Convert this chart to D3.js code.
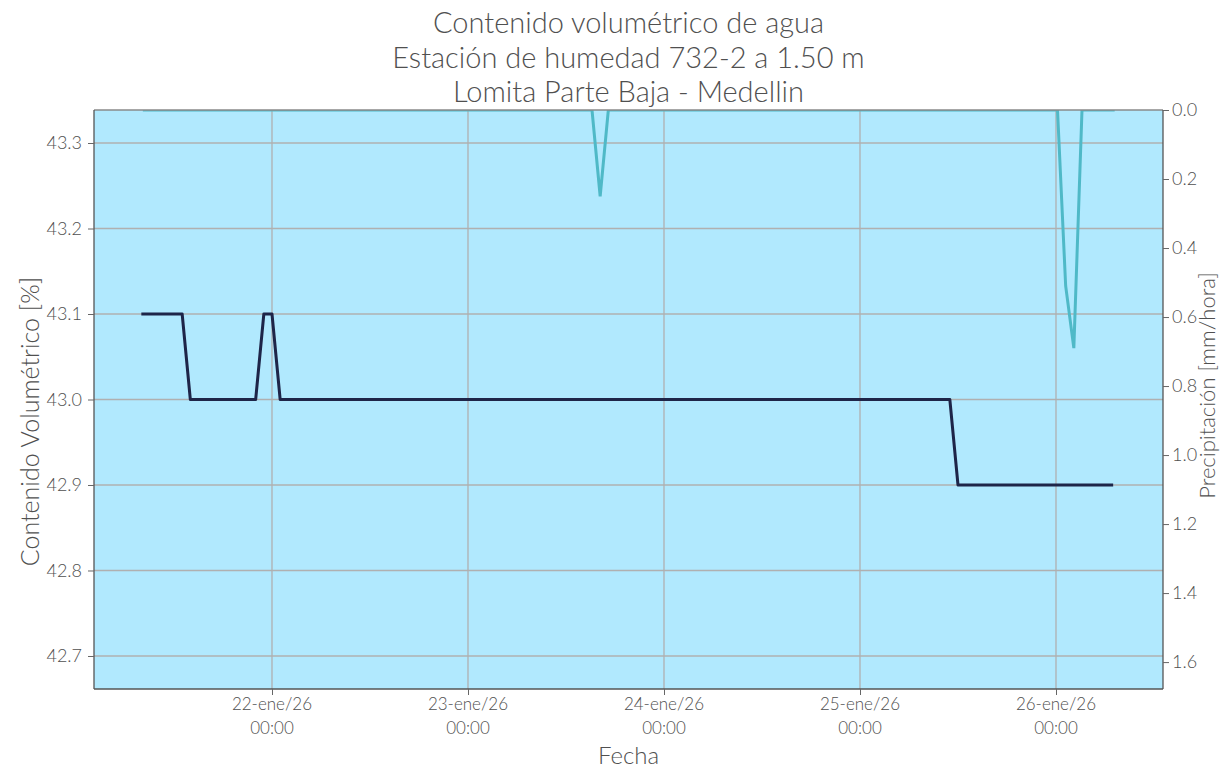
<!DOCTYPE html>
<html><head><meta charset="utf-8">
<script src="https://cdn.jsdelivr.net/npm/d3@7"></script>
<style>
body{margin:0;background:#fff;}
text{font-family:Lato,"Noto Sans",sans-serif;font-weight:300;fill:#505050;}
</style></head>
<body><svg id="c" width="1223" height="769"></svg>
<script>
const titleLines = ["Contenido volumétrico de agua","Estación de humedad 732-2 a 1.50 m","Lomita Parte Baja - Medellin"];
const humTimes = ["2026-01-21T08:00","2026-01-21T13:00","2026-01-21T14:00","2026-01-21T22:00","2026-01-21T23:00","2026-01-22T00:00","2026-01-22T01:00","2026-01-25T11:00","2026-01-25T12:00","2026-01-26T07:00"];
const humValues = [43.1,43.1,43.0,43.0,43.1,43.1,43.0,43.0,42.9,42.9];
const rainTimes = ["2026-01-21T08:00","2026-01-23T15:00","2026-01-23T16:00","2026-01-23T17:00","2026-01-26T00:00","2026-01-26T01:00","2026-01-26T02:00","2026-01-26T03:00","2026-01-26T07:00"];
const rainValues = [0,0,0.25,0,0,0.51,0.69,0,0];
const xTickDates = ["2026-01-22T00:00","2026-01-23T00:00","2026-01-24T00:00","2026-01-25T00:00","2026-01-26T00:00"];
const xTickLabels = ["22-ene/26","23-ene/26","24-ene/26","25-ene/26","26-ene/26"];
const xTickTimes = ["00:00","00:00","00:00","00:00","00:00"];
const yLeftTicks = [42.7,42.8,42.9,43.0,43.1,43.2,43.3];
const yRightTicks = [0,0.2,0.4,0.6,0.8,1.0,1.2,1.4,1.6];

const parse = d3.timeParse("%Y-%m-%dT%H:%M");
const L=94,R=1163,T=110,B=689;
const svg=d3.select("#c");
const d22=parse(xTickDates[0]), d26=parse(xTickDates[4]);
const pxPerMs=(1056-272)/(d26-d22);
const x=d3.scaleTime().domain([new Date(+d22-(272-L)/pxPerMs), new Date(+d22+(R-272)/pxPerMs)]).range([L,R]);
const yL=d3.scaleLinear().domain([42.6614,43.3386]).range([B,T]);
const yR=d3.scaleLinear().domain([0,1.678]).range([T,B]);

svg.append("rect").attr("x",L).attr("y",T).attr("width",R-L).attr("height",B-T).attr("fill","#b1e9fe");
svg.append("defs").append("clipPath").attr("id","clip").append("rect").attr("x",L).attr("y",T).attr("width",R-L).attr("height",B-T);

const g=svg.append("g");
g.selectAll(".hg").data(yLeftTicks).join("line").attr("x1",L).attr("x2",R).attr("y1",d=>yL(d)).attr("y2",d=>yL(d)).attr("stroke","#b0b0b0").attr("stroke-width",1.3);
g.selectAll(".vg").data(xTickDates).join("line").attr("y1",T).attr("y2",B).attr("x1",d=>x(parse(d))).attr("x2",d=>x(parse(d))).attr("stroke","#b0b0b0").attr("stroke-width",1.3);

const rain=rainTimes.map((t,i)=>({t:parse(t),v:rainValues[i]}));
svg.append("path").datum(rain).attr("clip-path","url(#clip)").attr("fill","none").attr("stroke","#4fb9c7").attr("stroke-width",3)
 .attr("d",d3.line().x(d=>x(d.t)+1.5).y(d=>yR(d.v)));
const hum=humTimes.map((t,i)=>({t:parse(t),v:humValues[i]}));
svg.append("path").datum(hum).attr("fill","none").attr("stroke","#1e2548").attr("stroke-width",3).attr("stroke-linejoin","round")
 .attr("d",d3.line().x(d=>x(d.t)).y(d=>yL(d.v)));

svg.append("line").attr("x1",L).attr("x2",R).attr("y1",T).attr("y2",T).attr("stroke","#8a8a8a").attr("stroke-width",1.3);
svg.append("line").attr("x1",L).attr("x2",L).attr("y1",T).attr("y2",B).attr("stroke","#555").attr("stroke-width",1.3);
svg.append("line").attr("x1",R).attr("x2",R).attr("y1",T).attr("y2",B).attr("stroke","#555").attr("stroke-width",1.3);
svg.append("line").attr("x1",L).attr("x2",R).attr("y1",B).attr("y2",B).attr("stroke","#555").attr("stroke-width",1.3);

const la=svg.append("g").attr("transform",`translate(${L},0)`).call(d3.axisLeft(yL).tickValues(yLeftTicks).tickFormat(d3.format(".1f")).tickSize(6).tickPadding(6));
la.select(".domain").remove();
la.selectAll("line").attr("stroke","#666");
la.selectAll("text").style("font-size","18px").style("font-family","Lato").style("font-weight","300").attr("fill","#505050");
const ra=svg.append("g").attr("transform",`translate(${R},0)`).call(d3.axisRight(yR).tickValues(yRightTicks).tickFormat(d3.format(".1f")).tickSize(6).tickPadding(3));
ra.select(".domain").remove();
ra.selectAll("line").attr("stroke","#666");
ra.selectAll("text").style("font-size","18px").style("font-family","Lato").style("font-weight","300").attr("fill","#505050");
const ba=svg.append("g").attr("transform",`translate(0,${B})`).call(d3.axisBottom(x).tickValues(xTickDates.map(parse)).tickSize(6).tickFormat(""));
ba.select(".domain").remove();
ba.selectAll("line").attr("stroke","#666");
xTickDates.forEach((d,i)=>{
  const t=svg.append("text").attr("x",x(parse(d))).attr("text-anchor","middle").style("font-size","17px");
  t.append("tspan").attr("x",x(parse(d))).attr("y",710).text(xTickLabels[i]);
  t.append("tspan").attr("x",x(parse(d))).attr("y",734).text(xTickTimes[i]);
});
svg.append("text").attr("x",(L+R)/2).attr("y",764).attr("text-anchor","middle").style("font-size","24px").text("Fecha");
svg.append("text").attr("transform",`translate(39,${(T+B)/2+22}) rotate(-90)`).attr("text-anchor","middle").style("font-size","25px").text("Contenido Volumétrico [%]");
svg.append("text").attr("transform",`translate(1215,${(T+B)/2-14}) rotate(-90)`).attr("text-anchor","middle").style("font-size","22px").text("Precipitación [mm/hora]");
titleLines.forEach((s,i)=>svg.append("text").attr("x",(L+R)/2).attr("y",33+i*34.5).attr("text-anchor","middle").style("font-size","29px").text(s));
</script></body></html>
